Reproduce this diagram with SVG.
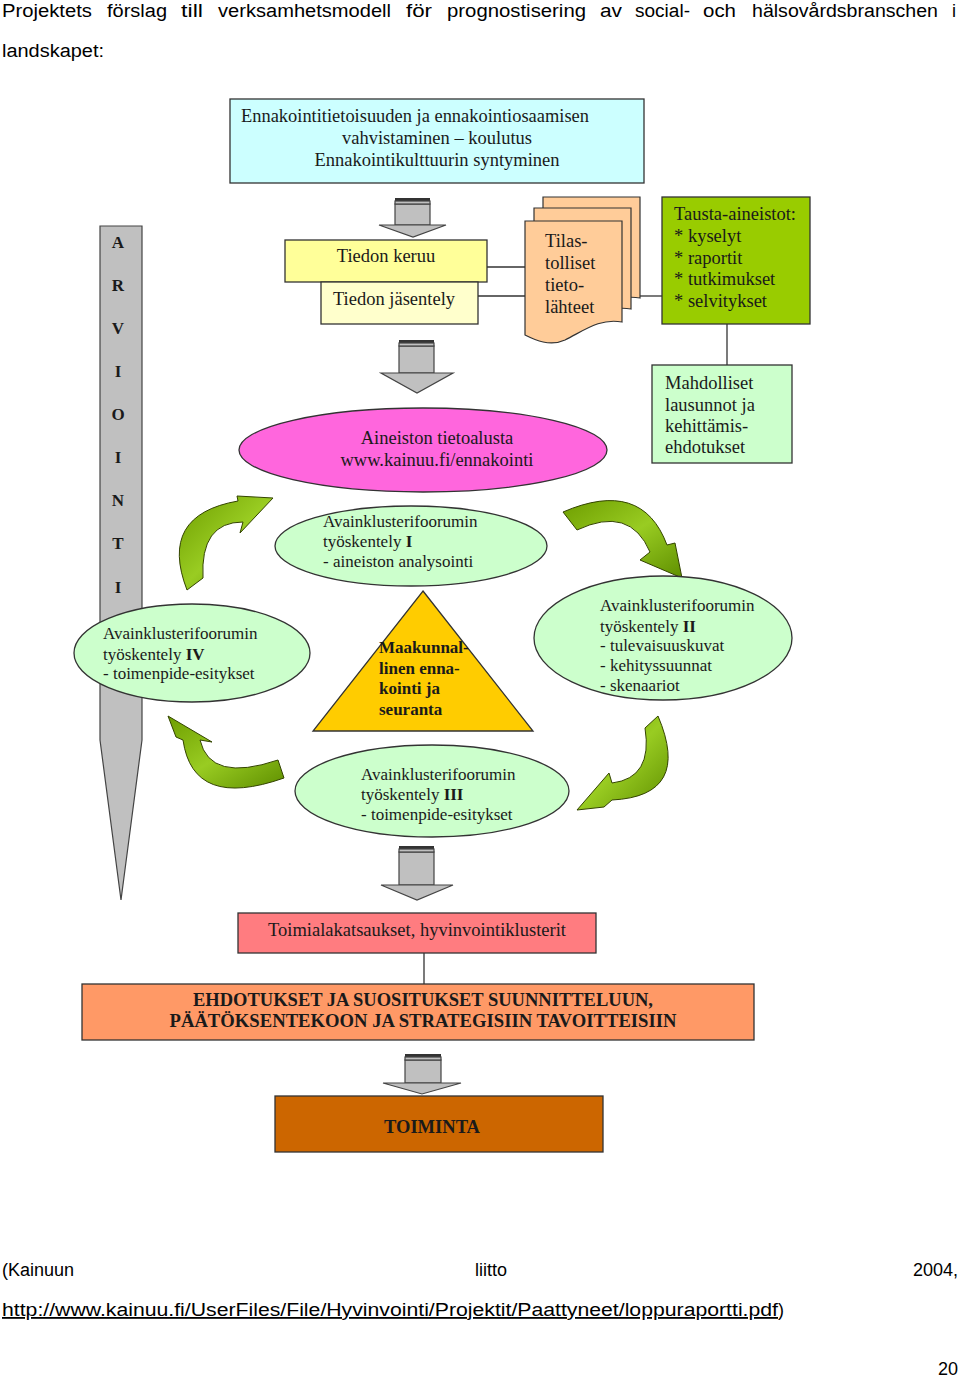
<svg xmlns="http://www.w3.org/2000/svg" width="960" height="1379" viewBox="0 0 960 1379">
<defs>
<linearGradient id="gArrow" x1="0" y1="0" x2="1" y2="1">
<stop offset="0" stop-color="#6e9e00"/>
<stop offset="0.5" stop-color="#99cc22"/>
<stop offset="1" stop-color="#5f8f00"/>
</linearGradient>
<path id="page" d="M0,0 H97 V101 C75,97 60,109 40,119 C25,126 10,119 0,114 Z"/>
</defs>
<style>
.hdr{font-family:"Liberation Sans",Arial,sans-serif;font-size:18px;fill:#000}
.t{font-family:"Liberation Serif","Times New Roman",serif;font-size:18.5px;fill:#1a1a1a}
.t16{font-family:"Liberation Serif","Times New Roman",serif;font-size:17px;fill:#1a1a1a}
.b{font-weight:bold}
.box{stroke:#333;stroke-width:1.3}
.ln{stroke:#333;stroke-width:1.3;fill:none}
.blk{fill:#c0c0c0;stroke:#444;stroke-width:1.2}
.stripe{fill:#333}
.garrow{fill:url(#gArrow);stroke:#334400;stroke-width:1}
.mid{text-anchor:middle}
</style>

<g id="header">
<text class="hdr" x="2" y="17" textLength="90" lengthAdjust="spacingAndGlyphs">Projektets</text>
<text class="hdr" x="107" y="17" textLength="60" lengthAdjust="spacingAndGlyphs">förslag</text>
<text class="hdr" x="181" y="17" textLength="22" lengthAdjust="spacingAndGlyphs">till</text>
<text class="hdr" x="218" y="17" textLength="173" lengthAdjust="spacingAndGlyphs">verksamhetsmodell</text>
<text class="hdr" x="406" y="17" textLength="26" lengthAdjust="spacingAndGlyphs">för</text>
<text class="hdr" x="447" y="17" textLength="139" lengthAdjust="spacingAndGlyphs">prognostisering</text>
<text class="hdr" x="600" y="17" textLength="22" lengthAdjust="spacingAndGlyphs">av</text>
<text class="hdr" x="635" y="17" textLength="55" lengthAdjust="spacingAndGlyphs">social-</text>
<text class="hdr" x="703" y="17" textLength="33" lengthAdjust="spacingAndGlyphs">och</text>
<text class="hdr" x="752" y="17" textLength="186" lengthAdjust="spacingAndGlyphs">hälsovårdsbranschen</text>
<text class="hdr" x="952" y="17">i</text>
<text class="hdr" x="2" y="57" textLength="102" lengthAdjust="spacingAndGlyphs">landskapet:</text>
</g>

<g id="arviointi">
<polygon points="100,226 142,226 142,740 121,900 100,740" fill="#c0c0c0" stroke="#444" stroke-width="1.2"/>
<g class="t16 b mid">
<text x="118" y="248">A</text>
<text x="118" y="291">R</text>
<text x="118" y="334">V</text>
<text x="118" y="377">I</text>
<text x="118" y="420">O</text>
<text x="118" y="463">I</text>
<text x="118" y="506">N</text>
<text x="118" y="549">T</text>
<text x="118" y="593">I</text>
</g>
</g>

<g id="connectors">
<line class="ln" x1="487" y1="267" x2="525" y2="267"/>
<line class="ln" x1="478" y1="296" x2="525" y2="296"/>
<line class="ln" x1="630" y1="296" x2="662" y2="296"/>
<line class="ln" x1="727" y1="324" x2="727" y2="365"/>
<line class="ln" x1="424" y1="953" x2="424" y2="984"/>
<g id="blockarrow1">
<rect class="blk" x="395" y="204" width="35" height="21"/>
<rect class="stripe" x="395" y="198" width="35" height="3"/>
<rect class="blk" x="395" y="201" width="35" height="3"/>
<polygon class="blk" points="379,225 446,225 413,237"/>
</g>
<g id="blockarrow2">
<rect class="blk" x="399" y="346" width="35" height="27"/>
<rect class="stripe" x="399" y="340" width="35" height="3"/>
<rect class="blk" x="399" y="343" width="35" height="3"/>
<polygon class="blk" points="381,373 453,373 417,393"/>
</g>
<g id="blockarrow3">
<rect class="blk" x="399" y="852" width="35" height="33"/>
<rect class="stripe" x="399" y="846" width="35" height="3"/>
<rect class="blk" x="399" y="849" width="35" height="3"/>
<polygon class="blk" points="381,885 453,885 417,900"/>
</g>
<g id="blockarrow4">
<rect class="blk" x="405" y="1060" width="36" height="23"/>
<rect class="stripe" x="405" y="1054" width="36" height="3"/>
<rect class="blk" x="405" y="1057" width="36" height="3"/>
<polygon class="blk" points="383,1083 461,1083 422,1094"/>
</g>
<path id="cycle1" class="garrow" d="M187,590 Q158,515 238,501 L237,496 L273,498 L240,533 L243,522 Q200,522 203,578 Z"/>
<path id="cycle2" class="garrow" d="M563,512 Q642,478 667,545 L675,543 L682,578 L640,560 L650,552 Q630,505 577,530 Z"/>
<path id="cycle3" class="garrow" d="M658,716 Q692,796 612,800 L604,807 L577,810 L609,773 L612,783 Q653,778 645,728 Z"/>
<path id="cycle4" class="garrow" d="M284,778 Q193,810 183,740 L176,737 L168,716 L212,742 L200,740 Q210,783 278,760 Z"/>
</g>

<g id="koulutus">
<rect class="box" x="230" y="99" width="414" height="84" fill="#ccffff"/>
<text class="t" x="241" y="122" textLength="348" lengthAdjust="spacingAndGlyphs">Ennakointitietoisuuden ja ennakointiosaamisen</text>
<text class="t mid" x="437" y="144">vahvistaminen – koulutus</text>
<text class="t mid" x="437" y="166">Ennakointikulttuurin syntyminen</text>
</g>

<g id="keruu">
<rect class="box" x="285" y="240" width="202" height="42" fill="#ffff99"/>
<text class="t mid" x="386" y="262">Tiedon keruu</text>
</g>
<g id="jasentely">
<rect class="box" x="321" y="282" width="157" height="42" fill="#ffffcc"/>
<text class="t mid" x="394" y="305">Tiedon jäsentely</text>
</g>

<g id="tilastolliset">
<use href="#page" x="543" y="197" fill="#ffcc99" stroke="#333" stroke-width="1.2"/>
<use href="#page" x="534" y="208" fill="#ffcc99" stroke="#333" stroke-width="1.2"/>
<use href="#page" x="525" y="221" fill="#ffcc99" stroke="#333" stroke-width="1.2"/>
<text class="t" x="545" y="247">Tilas-</text>
<text class="t" x="545" y="269">tolliset</text>
<text class="t" x="545" y="291">tieto-</text>
<text class="t" x="545" y="313">lähteet</text>
</g>

<g id="tausta">
<rect class="box" x="662" y="197" width="148" height="127" fill="#99cc00"/>
<text class="t" x="674" y="220">Tausta-aineistot:</text>
<text class="t" x="674" y="242">* kyselyt</text>
<text class="t" x="674" y="264">* raportit</text>
<text class="t" x="674" y="285">* tutkimukset</text>
<text class="t" x="674" y="307">* selvitykset</text>
</g>

<g id="mahdolliset">
<rect class="box" x="652" y="365" width="140" height="98" fill="#ccffcc"/>
<text class="t" x="665" y="389">Mahdolliset</text>
<text class="t" x="665" y="411">lausunnot ja</text>
<text class="t" x="665" y="432">kehittämis-</text>
<text class="t" x="665" y="453">ehdotukset</text>
</g>

<g id="tietoalusta">
<ellipse class="box" cx="423" cy="450" rx="184" ry="42" fill="#ff66dd"/>
<text class="t mid" x="437" y="444" fill="#2a0a2a">Aineiston tietoalusta</text>
<text class="t mid" x="437" y="466" fill="#2a0a2a">www.kainuu.fi/ennakointi</text>
</g>

<g id="foorumi1">
<ellipse class="box" cx="411" cy="546" rx="136" ry="40" fill="#ccffcc"/>
<text class="t16" x="323" y="527">Avainklusterifoorumin</text>
<text class="t16" x="323" y="547">työskentely <tspan class="b">I</tspan></text>
<text class="t16" x="323" y="567">- aineiston analysointi</text>
</g>

<g id="foorumi4">
<ellipse class="box" cx="192" cy="653" rx="118" ry="49" fill="#ccffcc"/>
<text class="t16" x="103" y="639">Avainklusterifoorumin</text>
<text class="t16" x="103" y="660">työskentely <tspan class="b">IV</tspan></text>
<text class="t16" x="103" y="679">- toimenpide-esitykset</text>
</g>

<g id="maakunnallinen">
<polygon class="box" points="423,591 533,731 313,731" fill="#ffcc00"/>
<text class="t16 b" x="379" y="653">Maakunnal-</text>
<text class="t16 b" x="379" y="674">linen enna-</text>
<text class="t16 b" x="379" y="694">kointi ja</text>
<text class="t16 b" x="379" y="715">seuranta</text>
</g>

<g id="foorumi2">
<ellipse class="box" cx="663" cy="638" rx="129" ry="62" fill="#ccffcc"/>
<text class="t16" x="600" y="611">Avainklusterifoorumin</text>
<text class="t16" x="600" y="632">työskentely <tspan class="b">II</tspan></text>
<text class="t16" x="600" y="651">- tulevaisuuskuvat</text>
<text class="t16" x="600" y="671">- kehityssuunnat</text>
<text class="t16" x="600" y="691">- skenaariot</text>
</g>

<g id="foorumi3">
<ellipse class="box" cx="432" cy="791" rx="137" ry="46" fill="#ccffcc"/>
<text class="t16" x="361" y="780">Avainklusterifoorumin</text>
<text class="t16" x="361" y="800">työskentely <tspan class="b">III</tspan></text>
<text class="t16" x="361" y="820">- toimenpide-esitykset</text>
</g>

<g id="toimialat">
<rect class="box" x="238" y="913" width="358" height="40" fill="#ff7c80"/>
<text class="t mid" x="417" y="936" fill="#3a0000" textLength="298" lengthAdjust="spacingAndGlyphs">Toimialakatsaukset, hyvinvointiklusterit</text>
</g>

<g id="ehdotukset">
<rect class="box" x="82" y="984" width="672" height="56" fill="#ff9966"/>
<text class="t b mid" x="423" y="1006" textLength="460" lengthAdjust="spacingAndGlyphs">EHDOTUKSET JA SUOSITUKSET SUUNNITTELUUN,</text>
<text class="t b mid" x="423" y="1027" textLength="507" lengthAdjust="spacingAndGlyphs">PÄÄTÖKSENTEKOON JA STRATEGISIIN TAVOITTEISIIN</text>
</g>

<g id="toiminta">
<rect class="box" x="275" y="1096" width="328" height="56" fill="#cc6600"/>
<text class="t b mid" x="432" y="1133">TOIMINTA</text>
</g>

<g id="footer">
<text class="hdr" x="2" y="1276">(Kainuun</text>
<text class="hdr" x="475" y="1276">liitto</text>
<text class="hdr" x="958" y="1276" text-anchor="end">2004,</text>
<text class="hdr" x="2" y="1316"><tspan text-decoration="underline" textLength="776" lengthAdjust="spacingAndGlyphs">http://www.kainuu.fi/UserFiles/File/Hyvinvointi/Projektit/Paattyneet/loppuraportti.pdf</tspan>)</text>
<text class="hdr" x="958" y="1375" text-anchor="end">20</text>
</g>
</svg>
